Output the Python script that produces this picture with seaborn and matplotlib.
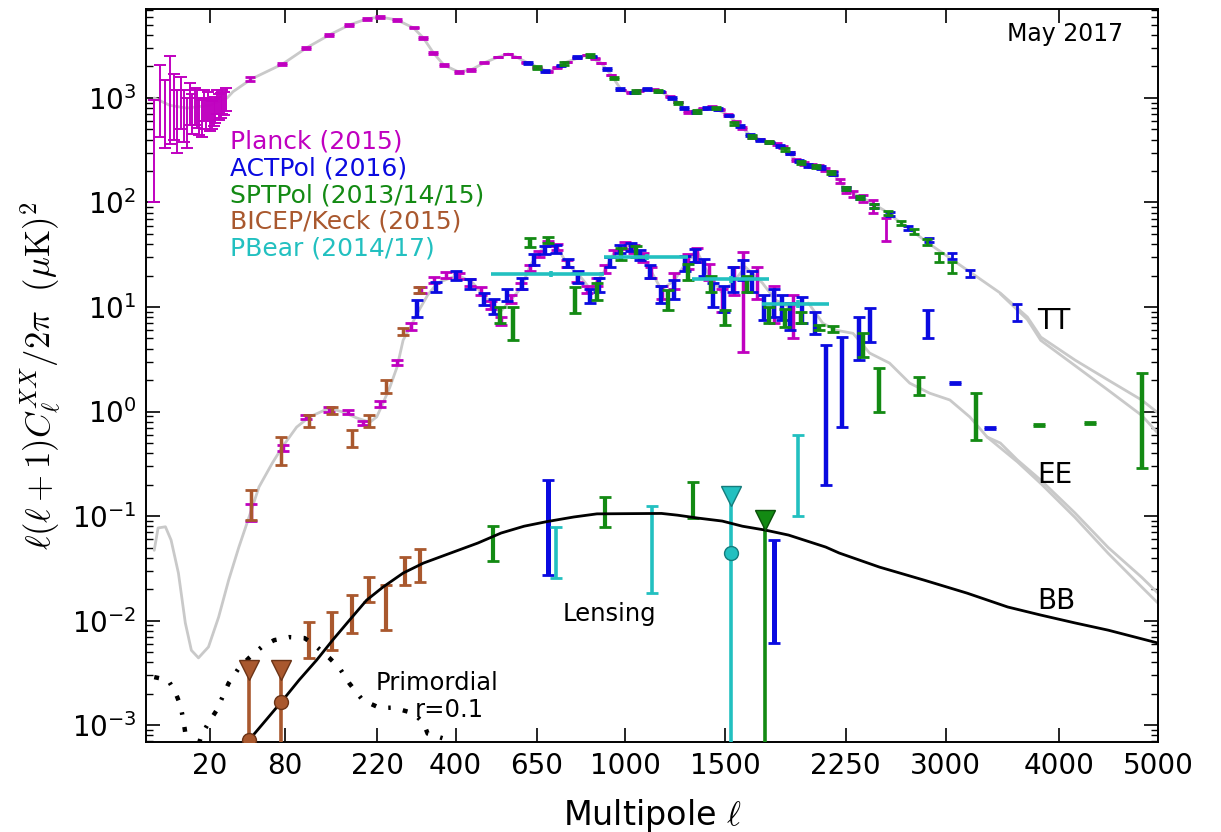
import numpy as np
import matplotlib
matplotlib.use("Agg")
import matplotlib.pyplot as plt
from matplotlib.ticker import FixedLocator, FixedFormatter, NullLocator, LogLocator
import seaborn as sns

# ---------------- theory spectra, D_ell = ell(ell+1)C_ell/2pi  [uK^2] ----------------
tt_ell = [2, 5, 10, 20, 30, 34, 48, 78, 106, 138, 170, 200, 225, 260, 296, 319, 343, 369,
          408, 442, 480, 523, 555, 581, 614, 692, 760, 838, 897, 940, 984, 1028, 1101, 1169,
          1248, 1300, 1428, 1516, 1596, 1653, 1750, 1836, 1918, 2068, 2163, 2252, 2373, 2520,
          2692, 2906, 3178, 3462, 3704, 3827, 4152, 4481, 4826, 5000]
tt_dl = [1000, 850, 800, 850, 1000, 1150, 1520, 2115, 3006, 4006, 5000, 5700, 5960, 5570,
         4680, 3750, 2700, 2070, 1775, 1853, 2163, 2466, 2636, 2466, 2206, 1775, 2206, 2576,
         2163, 1660, 1193, 1116, 1219, 1141, 915, 735, 820, 687, 516, 424, 380, 340, 255, 219,
         192, 132, 110, 84.8, 58.3, 37.5, 22.6, 13.6, 8.02, 5.16, 3.11, 2.0, 1.29, 0.97]
tt_alt_ell = [3462, 3704, 3827, 4152, 4481, 4826, 5000]
tt_alt_dl = [13.4, 7.6, 4.8, 2.75, 1.6, 0.92, 0.62]

ee_ell = [2, 2.6, 4, 5.3, 7.3, 9.5, 11.7, 14.6, 19.3, 24.8, 31, 38, 46, 54.5, 67, 77.5, 94,
          110, 138, 159, 182, 206, 219, 231, 245, 260, 273, 289, 305, 329, 353, 406, 448, 490,
          530, 597, 628, 657, 686, 722, 760, 814, 855, 909, 952, 1010, 1074, 1122, 1169, 1233,
          1300, 1352, 1405, 1483, 1554, 1613, 1713, 1791, 1873, 2000, 2094, 2183, 2301, 2418,
          2564, 2717, 2872, 3035, 3201, 3348, 3462, 3614, 3827, 4152, 4481, 4826, 5000]
ee_dl = [0.047, 0.077, 0.079, 0.059, 0.0285, 0.0095, 0.0052, 0.0044, 0.0056, 0.0108, 0.0244,
         0.050, 0.098, 0.19, 0.32, 0.457, 0.71, 0.886, 1.08, 0.99, 0.87, 0.79, 0.89, 1.2, 1.71,
         2.67, 4.83, 6.44, 8.77, 13.0, 17.0, 20.2, 17.0, 11.7, 9.0, 15.2, 25.0, 33.0, 40.0,
         37.5, 26.4, 19.4, 14.6, 21.6, 32.9, 39.2, 32.9, 21.6, 14.6, 18.1, 28.2, 32.9, 21.1,
         13.6, 18.1, 24.2, 17.0, 11.7, 10.0, 10.9, 7.0, 6.0, 5.6, 3.63, 2.91, 1.87, 1.5, 1.29,
         0.886, 0.57, 0.50, 0.344, 0.221, 0.107, 0.050, 0.026, 0.0183]
ee_alt_ell = [3348, 3614, 3827, 4152, 4481, 4826, 5000]
ee_alt_dl = [0.57, 0.33, 0.205, 0.097, 0.044, 0.021, 0.0147]

bb_lens_ell = [30, 46, 61, 78, 97, 120, 143, 170, 200, 231, 273, 319, 387, 462, 532, 607, 686,
               787, 880, 1010, 1169, 1248, 1352, 1483, 1596, 1731, 1873, 2114, 2205, 2490, 2828,
               3178, 3527, 3827, 4152, 4481, 5000]
bb_lens_dl = [0.0003, 0.00072, 0.00112, 0.00173, 0.0027, 0.0042, 0.0065, 0.0101, 0.0157,
              0.0209, 0.0285, 0.0355, 0.0443, 0.0552, 0.0688, 0.080, 0.0885, 0.098, 0.105,
              0.1055, 0.106, 0.102, 0.0957, 0.0896, 0.080, 0.0734, 0.0658, 0.0505, 0.0443,
              0.0325, 0.0244, 0.0183, 0.0135, 0.0113, 0.0095, 0.0081, 0.0061]

bb_prim_ell = [2, 4.6, 6.4, 7.9, 8.85, 9.5, 12, 15.9, 19.3, 23.7, 31, 38, 46, 57, 69, 85, 104,
               120, 138, 154, 170, 193, 225, 252, 296, 319, 329, 366, 420]
bb_prim_dl = [0.00288, 0.0027, 0.00207, 0.00155, 0.00112, 0.00084, 0.0004, 0.0008, 0.00105,
              0.00139, 0.00252, 0.0035, 0.0044, 0.0056, 0.0065, 0.00695, 0.0068, 0.0056, 0.0044,
              0.0035, 0.0025, 0.00173, 0.00146, 0.00147, 0.0013, 0.00105, 0.00083, 0.00075,
              0.0005]

# ---------------- TT bandpowers ----------------
planck_lowl_ell = list(range(2, 30))
planck_lowl_lo = [100, 420, 330, 360, 400, 300, 500, 380, 330, 550, 450, 550, 520, 440, 420,
                  600, 500, 600, 480, 500, 540, 580, 700, 620, 650, 700, 680, 750]
planck_lowl_hi = [950, 2070, 1500, 2500, 1700, 1200, 1600, 1200, 1000, 1400, 1100, 1250, 1200,
                  1000, 950, 1200, 1000, 1150, 950, 930, 970, 1020, 1200, 1080, 1120, 1200,
                  1150, 1250]

planck_tt_ell = [47, 77, 106, 138, 170, 200, 225, 260, 296, 319, 343, 369, 408, 442, 480, 523,
                 555, 581, 614, 650, 692, 725, 760, 800, 838, 870, 897, 940, 984, 1028, 1065,
                 1101, 1135, 1169, 1210, 1248, 1300, 1340, 1380, 1428, 1470, 1516, 1560, 1596,
                 1653, 1700, 1750, 1800, 1836, 1880, 1918, 1970, 2020, 2068, 2110, 2163, 2210,
                 2252, 2300, 2373, 2440, 2540]
planck_tt_dl = [1520, 2115, 3006, 4006, 5000, 5700, 5960, 5570, 4680, 3750, 2700, 2070, 1775,
                1853, 2163, 2466, 2636, 2466, 2206, 1950, 1775, 1950, 2206, 2450, 2576, 2400,
                2163, 1660, 1193, 1116, 1170, 1219, 1200, 1141, 1030, 915, 735, 740, 790, 820,
                770, 687, 600, 516, 424, 400, 380, 360, 340, 300, 255, 235, 225, 219, 205, 192,
                160, 132, 122, 110, 93, 57]
planck_tt_err = [60, 60, 70, 80, 90, 90, 90, 80, 60, 50, 40, 30, 25, 25, 25, 25, 25, 25, 22, 20,
                 18, 20, 20, 20, 20, 20, 18, 15, 12, 12, 12, 12, 12, 12, 11, 10, 9, 9, 9, 9, 9,
                 8, 8, 8, 7, 7, 7, 7, 7, 7, 7, 7, 7, 7, 7, 8, 8, 8, 8, 9, 13, 14]

act_tt_ell = [620, 680, 740, 800, 860, 920, 980, 1040, 1100, 1160, 1220, 1280, 1340, 1400, 1460,
              1520, 1580, 1640, 1700, 1760, 1820, 1880, 1940, 2000, 2080, 2160, 2250, 2350, 2450,
              2570, 2700, 2870, 3050, 3200, 3614]
act_tt_dl = [2150, 1800, 2050, 2450, 2500, 1900, 1220, 1130, 1220, 1150, 1000, 800, 740, 800,
             790, 680, 540, 440, 400, 375, 345, 300, 250, 225, 215, 190, 137, 112, 93, 78, 57,
             44, 31, 21, 9.1]
act_tt_err = [40, 35, 40, 45, 45, 35, 25, 22, 22, 22, 20, 16, 15, 15, 15, 13, 11, 10, 9, 8, 8, 7,
              6, 6, 6, 5, 4, 4, 3.5, 3, 2.5, 2.2, 2, 1.6, 1.7]

spt_tt_ell = [650, 750, 850, 950, 1050, 1150, 1250, 1350, 1450, 1550, 1650, 1750, 1850, 1950,
              2050, 2150, 2250, 2350, 2450, 2550, 2650, 2750, 2850, 2950, 3050]
spt_tt_dl = [1950, 2150, 2550, 1550, 1150, 1170, 900, 740, 800, 570, 430, 380, 320, 240, 220,
             195, 135, 112, 93, 80, 64, 53, 42, 30, 24]
spt_tt_err = [60, 60, 70, 45, 30, 30, 25, 20, 20, 15, 12, 10, 9, 7, 6, 6, 4.5, 4, 3.5, 3.5, 3,
              3, 3, 3, 3]

# ---------------- EE bandpowers (lower / upper edge of each bar) ----------------
planck_ee_ell = [48, 78, 106, 138, 167, 193, 225, 260, 290, 313, 345, 375, 408, 440, 470, 500,
                 532, 565, 597, 628, 660, 690, 722, 760, 800, 840, 880, 915, 950, 1000, 1040,
                 1080, 1120, 1170, 1230, 1300, 1350, 1410, 1480, 1550, 1600, 1680, 1780, 1900]
planck_ee_lo = [0.09, 0.42, 0.85, 1.0, 0.95, 0.75, 1.1, 2.8, 6.0, 13.5, 17, 19, 18.5, 16, 13,
                9.5, 6.8, 11, 15, 22, 30, 38, 35, 24, 17.5, 13.5, 16, 21, 30, 36, 33, 27, 19, 12,
                15, 23, 27, 18, 9, 13, 3.7, 12, 7, 5]
planck_ee_hi = [0.13, 0.48, 0.92, 1.1, 1.03, 0.82, 1.25, 3.1, 7.0, 15.5, 19.5, 21.5, 21, 18.5,
                15.5, 11.5, 8.0, 13, 17, 25, 34, 43, 40, 28, 21, 16, 19, 25, 35, 42, 39, 33, 24,
                16, 21, 32, 37, 26, 15, 24, 33.6, 24, 16, 13]

act_ee_ell = [305, 350, 400, 440, 480, 510, 550, 600, 640, 680, 720, 765, 805, 850, 890, 935,
              980, 1025, 1070, 1115, 1165, 1230, 1285, 1335, 1385, 1435, 1490, 1545, 1600, 1650,
              1720, 1780, 1830, 1880, 1960, 2040, 2114, 2227, 2340, 2420, 2860, 3080, 3370]
act_ee_lo = [8, 14, 18, 15, 10.5, 8.5, 11.5, 15, 25, 32, 33, 24, 17, 11, 14, 24, 33, 34, 28, 19,
             11, 12, 22, 27, 20, 10, 9, 14, 18, 14, 7.5, 8, 7.5, 6, 7, 5.5, 0.2, 0.71, 3.1, 4.6,
             5.0, 1.82, 0.68]
act_ee_hi = [11.7, 17.5, 22, 18.5, 13.5, 12, 15, 19, 32, 38, 39, 29, 22, 15, 19, 30, 39, 41, 35,
             25, 16, 18, 31, 36, 29, 17, 16, 24, 28, 22, 13, 15, 13, 11, 12.5, 9, 4.3, 5.16, 8.0,
             9.8, 9.4, 1.92, 0.71]

spt_ee_ell = [530, 570, 628, 690, 790, 880, 984, 1050, 1200, 1300, 1420, 1500, 1620, 1750, 1850,
              1950, 2068, 2160, 2373, 2490, 2790, 3250, 3810, 4300, 4826]
spt_ee_lo = [7, 4.8, 37.5, 41, 8.8, 11.7, 28, 30, 9.4, 18, 14, 6.7, 14, 7, 6.5, 7, 6.0, 5.8, 3.3,
             0.99, 1.44, 0.53, 0.72, 0.76, 0.29]
spt_ee_hi = [10, 10, 45.7, 47, 15.5, 17, 37, 38, 14.6, 26, 20, 9.4, 20, 10, 9.5, 9, 6.8, 6.6, 5.6,
             2.6, 2.14, 1.5, 0.76, 0.80, 2.33]

bk_ee_ell = [48, 76, 110, 142, 175, 205, 237, 273, 308]
bk_ee_lo = [0.092, 0.31, 0.71, 0.95, 0.457, 0.71, 1.5, 5.4, 13.6]
bk_ee_hi = [0.177, 0.57, 0.93, 1.1, 0.665, 0.93, 2.0, 6.3, 15.5]

pb_ee_ell = [700, 1100, 1530, 1930]
pb_ee_lmin = [501, 909, 1320, 1713]
pb_ee_lmax = [909, 1300, 1750, 2136]
pb_ee_dl = [20.7, 30.0, 18.5, 10.7]
pb_ee_err = [1.5, 2.0, 1.5, 1.0]

# ---------------- BB bandpowers ----------------
bk_bb_ell = [110, 142, 175, 205, 237, 277, 310]
bk_bb_lo = [0.0044, 0.0052, 0.0076, 0.015, 0.0081, 0.0219, 0.0233]
bk_bb_hi = [0.0097, 0.012, 0.0175, 0.026, 0.0219, 0.0405, 0.048]
spt_bb_ell = [507, 915, 1327]
spt_bb_lo = [0.037, 0.0785, 0.0957]
spt_bb_hi = [0.080, 0.152, 0.211]
act_bb_ell = [690, 1780]
act_bb_lo = [0.0272, 0.0061]
act_bb_hi = [0.221, 0.0585]
pb_bb_ell = [720, 1125, 1930]
pb_bb_lo = [0.0255, 0.0183, 0.1]
pb_bb_hi = [0.0785, 0.125, 0.6]

# upper limits (95%) and central values where shown
bk_ul_ell = [46, 76]
bk_ul = [0.0034, 0.0034]
bk_ul_val = [0.00072, 0.00166]
pb_ul_ell = [1530]
pb_ul = [0.155]
pb_ul_val = [0.0443]
spt_ul_ell = [1731]
spt_ul = [0.092]

xtick_vals = [20, 80, 220, 400, 650, 1000, 1500, 2250, 3000, 4000, 5000]
ytick_vals = [1e-3, 1e-2, 1e-1, 1e0, 1e1, 1e2, 1e3]

# ---------------- style ----------------
PLANCK = "#c000c0"
ACT = "#0a0ae0"
SPT = "#138a13"
BK = "#a9582e"
PB = "#22c0c0"
GRAY = "#c9c9c9"

sns.set_theme(style="ticks")
plt.rcParams["font.family"] = ["DejaVu Sans"]
plt.rcParams["mathtext.fontset"] = "cm"
plt.rcParams["axes.edgecolor"] = "black"
plt.rcParams["xtick.color"] = "black"
plt.rcParams["ytick.color"] = "black"
plt.rcParams["text.color"] = "black"
plt.rcParams["axes.labelcolor"] = "black"

fig = plt.figure(figsize=(12.21, 8.32), dpi=100)
ax = fig.add_axes([0.1196, 0.1082, 0.8288, 0.8810])

ax.set_yscale("log")
ax.set_xscale("function",
              functions=(lambda x: np.power(np.maximum(x, 0), 0.45),
                         lambda y: np.power(np.maximum(y, 0), 1 / 0.45)))

# theory curves
for xs, ys in [(tt_ell, tt_dl), (tt_alt_ell, tt_alt_dl), (ee_ell, ee_dl), (ee_alt_ell, ee_alt_dl)]:
    sns.lineplot(x=xs, y=ys, ax=ax, color=GRAY, lw=2.0, zorder=1, sort=False, estimator=None)
sns.lineplot(x=bb_lens_ell, y=bb_lens_dl, ax=ax, color="black", lw=2.0, zorder=4,
             sort=False, estimator=None)
ax.plot(bb_prim_ell, bb_prim_dl, color="black", lw=3.2, zorder=4,
        linestyle=(0, (1.1, 2.8, 0.55, 2.8)))


def bars(ell, lo, hi, color, lw=3.0, cap=4.5, capthick=2.0, z=2):
    lo = np.asarray(lo, float)
    hi = np.asarray(hi, float)
    ax.errorbar(ell, lo, yerr=[np.zeros_like(lo), hi - lo], fmt="none", ecolor=color,
                elinewidth=lw, capsize=cap, capthick=capthick, zorder=z)


def points(ell, dl, err, color, z=2):
    ax.errorbar(ell, dl, yerr=err, fmt="none", ecolor=color, elinewidth=2.0,
                capsize=3.5, capthick=2.0, zorder=z)


# TT
bars(planck_lowl_ell, planck_lowl_lo, planck_lowl_hi, PLANCK, lw=1.4, cap=4, capthick=1.4)
points(planck_tt_ell, planck_tt_dl, planck_tt_err, PLANCK)
points(act_tt_ell, act_tt_dl, act_tt_err, ACT)
points(spt_tt_ell, spt_tt_dl, spt_tt_err, SPT)

# EE
bars(planck_ee_ell, planck_ee_lo, planck_ee_hi, PLANCK, lw=2.5, cap=4)
bars(bk_ee_ell, bk_ee_lo, bk_ee_hi, BK, lw=2.5, cap=4)
bars(act_ee_ell, act_ee_lo, act_ee_hi, ACT, lw=3.2, cap=4)
bars(spt_ee_ell, spt_ee_lo, spt_ee_hi, SPT, lw=3.2, cap=4)
pb_c = np.asarray(pb_ee_ell, float)
ax.errorbar(pb_c, pb_ee_dl,
            xerr=[pb_c - np.asarray(pb_ee_lmin), np.asarray(pb_ee_lmax) - pb_c],
            yerr=pb_ee_err, fmt="none", ecolor=PB, elinewidth=2.6, capsize=0, zorder=3)

# BB
bars(bk_bb_ell, bk_bb_lo, bk_bb_hi, BK, lw=3.0, cap=4.5)
bars(spt_bb_ell, spt_bb_lo, spt_bb_hi, SPT, lw=3.0, cap=4.5)
bars(act_bb_ell, act_bb_lo, act_bb_hi, ACT, lw=3.6, cap=4.5)
bars(pb_bb_ell, pb_bb_lo, pb_bb_hi, PB, lw=2.6, cap=4.5)

for ells, tops, col, edge in [(bk_ul_ell, bk_ul, BK, "#6b3316"), (pb_ul_ell, pb_ul, PB, "#147c7c"),
                              (spt_ul_ell, spt_ul, SPT, "#0a4f0a")]:
    ax.vlines(ells, 1e-6, tops, colors=col, lw=2.6, zorder=3)
    ax.plot(ells, tops, ls="none", marker="v", ms=15, mfc=col, mec=edge, mew=1.0, zorder=5)
for ells, vals, col, edge in [(bk_ul_ell, bk_ul_val, BK, "#6b3316"),
                              (pb_ul_ell, pb_ul_val, PB, "#147c7c")]:
    ax.plot(ells, vals, ls="none", marker="o", ms=10, mfc=col, mec=edge, mew=1.0, zorder=5)

# axes
ax.set_xlim(1, 5000)
ax.set_ylim(6.9e-4, 7.1e3)
ax.xaxis.set_major_locator(FixedLocator(xtick_vals))
ax.xaxis.set_major_formatter(FixedFormatter([str(v) for v in xtick_vals]))
ax.xaxis.set_minor_locator(NullLocator())
ax.yaxis.set_major_locator(FixedLocator(ytick_vals))
ax.yaxis.set_major_formatter(FixedFormatter(
    [r"$\mathdefault{10^{%d}}$" % int(np.log10(v)) for v in ytick_vals]))
ax.yaxis.set_minor_locator(LogLocator(base=10, subs=np.arange(2, 10), numticks=100))
ax.tick_params(which="both", direction="in", top=True, right=True, labelsize=20)
ax.tick_params(which="major", length=10, width=1.2, pad=7)
ax.tick_params(which="minor", length=5, width=1.0)
for s in ax.spines.values():
    s.set_linewidth(1.4)
    s.set_color("black")

ax.set_xlabel(r"Multipole $\ell$", fontsize=24)
ax.set_ylabel(r"$\ell(\ell+1)C_\ell^{XX}/2\pi\ \ (\mu{\rm K})^2$", fontsize=25)
ax.xaxis.set_label_coords(0.5, -0.075)
ax.yaxis.set_label_coords(-0.082, 0.5)

# annotations
legend_rows = [("Planck (2015)", PLANCK), ("ACTPol (2016)", ACT), ("SPTPol (2013/14/15)", SPT),
               ("BICEP/Keck (2015)", BK), ("PBear (2014/17)", PB)]
for i, (txt, col) in enumerate(legend_rows):
    ax.text(0.083, 0.8186 - i * 0.0362, txt, color=col, fontsize=18, ha="left", va="center",
            transform=ax.transAxes)

ax.text(0.9654, 0.966, "May 2017", fontsize=17, ha="right", va="center", transform=ax.transAxes)
ax.text(0.8804, 0.574, "TT", fontsize=20, ha="left", va="center", transform=ax.transAxes)
ax.text(0.8804, 0.364, "EE", fontsize=20, ha="left", va="center", transform=ax.transAxes)
ax.text(0.8804, 0.192, "BB", fontsize=20, ha="left", va="center", transform=ax.transAxes)
ax.text(0.412, 0.1746, "Lensing", fontsize=17.5, ha="left", va="center", transform=ax.transAxes)
ax.text(0.2273, 0.0805, "Primordial", fontsize=17.5, ha="left", va="center",
        transform=ax.transAxes)
ax.text(0.2658, 0.0437, "r=0.1", fontsize=17.5, ha="left", va="center", transform=ax.transAxes)

fig.savefig("out.png", dpi=100)
